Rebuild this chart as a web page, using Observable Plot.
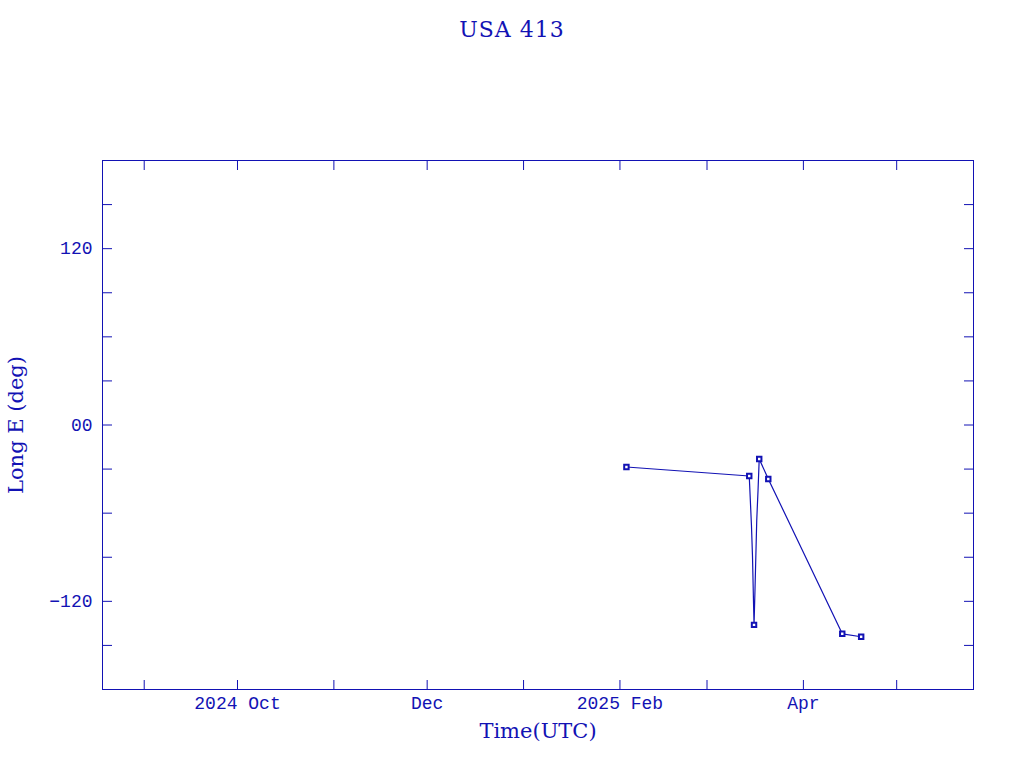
<!DOCTYPE html>
<html><head><meta charset="utf-8">
<script src="https://cdn.jsdelivr.net/npm/d3@7"></script>
<script src="https://cdn.jsdelivr.net/npm/@observablehq/plot@0.6"></script>
<style>
body{margin:0;background:#fff;width:1024px;height:768px;overflow:hidden}
#title{height:60px;line-height:60px;text-align:center;font-family:"DejaVu Serif",serif;font-size:22px;color:#1212b4;letter-spacing:1px}
</style></head><body>
<div id="title">USA 413</div>
<div id="chart"></div>
<script>
const lineTimes = ["2025-02-03T02:00Z","2025-03-14T14:00Z","2025-03-15T07:00Z","2025-03-15T15:00Z","2025-03-15T22:00Z","2025-03-16T03:00Z","2025-03-16T10:00Z","2025-03-16T17:00Z","2025-03-17T00:00Z","2025-03-17T10:00Z","2025-03-17T19:00Z","2025-03-20T17:00Z","2025-04-13T12:00Z","2025-04-19T14:00Z"];
const lineLong = [-28.6,-34.7,-68,-89,-117,-136,-113.5,-89,-64.6,-44.2,-23.1,-36.7,-142.1,-144.1];
const markerTimes = ["2025-02-03T02:00Z","2025-03-14T14:00Z","2025-03-16T03:00Z","2025-03-17T19:00Z","2025-03-20T17:00Z","2025-04-13T12:00Z","2025-04-19T14:00Z"];
const markerLong = [-28.6,-34.7,-136,-23.1,-36.7,-142.1,-144.1];
const xTickMonths = ["2024-09-01","2024-10-01","2024-11-01","2024-12-01","2025-01-01","2025-02-01","2025-03-01","2025-04-01","2025-05-01"];
const xLabelMonths = ["2024-10-01","2024-12-01","2025-02-01","2025-04-01"];
const xLabelText = ["2024 Oct","Dec","2025 Feb","Apr"];
const yTicks = [-150,-120,-90,-60,-30,0,30,60,90,120,150];
const yLabelTicks = [-120,0,120];
const yLabelText = ["\u2212120","00","120"];

const C = "#1212b4";
const line = lineTimes.map((t,i)=>({t:new Date(t), v:lineLong[i]}));
const marks = markerTimes.map((t,i)=>({t:new Date(t), v:markerLong[i]}));
const xt = xTickMonths.map(d=>new Date(d+"T00:00Z"));
const xl = xLabelMonths.map(d=>new Date(d+"T00:00Z"));
const xlMap = new Map(xl.map((d,i)=>[+d, xLabelText[i]]));
const ylMap = new Map(yLabelTicks.map((d,i)=>[d, yLabelText[i]]));
const tickFont = {fontFamily:"Liberation Mono, monospace", fontSize:18, fill:C};
const titleFont = {fontFamily:"DejaVu Serif, serif", fontSize:21, fill:C};

const plot = Plot.plot({
  width:1024, height:708,
  marginTop:100, marginBottom:79, marginLeft:102, marginRight:51,
  style:{background:"#fff", color:C, fontFamily:"Liberation Mono, monospace", fontSize:"18px"},
  x:{type:"utc", domain:[new Date("2024-08-18T14:00Z"), new Date("2025-05-25T17:00Z")]},
  y:{domain:[-180,180]},
  marks:[
    Plot.frame({stroke:C}),
    Plot.axisX(xt, {anchor:"bottom", tickSize:-9, tickFormat:()=>"", stroke:C, label:null}),
    Plot.axisX(xt, {anchor:"top", tickSize:-9, tickFormat:()=>"", stroke:C, label:null}),
    Plot.axisX(xl, {anchor:"bottom", tickSize:0, tickPadding:7, tickFormat:d=>xlMap.get(+d), label:null, ...tickFont}),
    Plot.axisY(yTicks, {anchor:"left", tickSize:-10, tickFormat:()=>"", stroke:C, label:null}),
    Plot.axisY(yTicks, {anchor:"right", tickSize:-10, tickFormat:()=>"", stroke:C, label:null}),
    Plot.axisY(yLabelTicks, {anchor:"left", tickSize:0, tickPadding:10, tickFormat:d=>ylMap.get(d), label:null, ...tickFont}),
    Plot.text(["Time(UTC)"], {frameAnchor:"bottom", dy:42, lineAnchor:"middle", textAnchor:"middle", ...titleFont}),
    Plot.text(["Long E (deg)"], {frameAnchor:"left", dx:-86, rotate:-90, lineAnchor:"middle", textAnchor:"middle", ...titleFont}),
    Plot.line(line, {x:"t", y:"v", stroke:C, strokeWidth:1.2}),
    Plot.dot(marks, {x:"t", y:"v", symbol:"square", r:2.5, stroke:C, strokeWidth:2, fill:"white"})
  ]
});
document.getElementById("chart").appendChild(plot);
</script>
</body></html>
